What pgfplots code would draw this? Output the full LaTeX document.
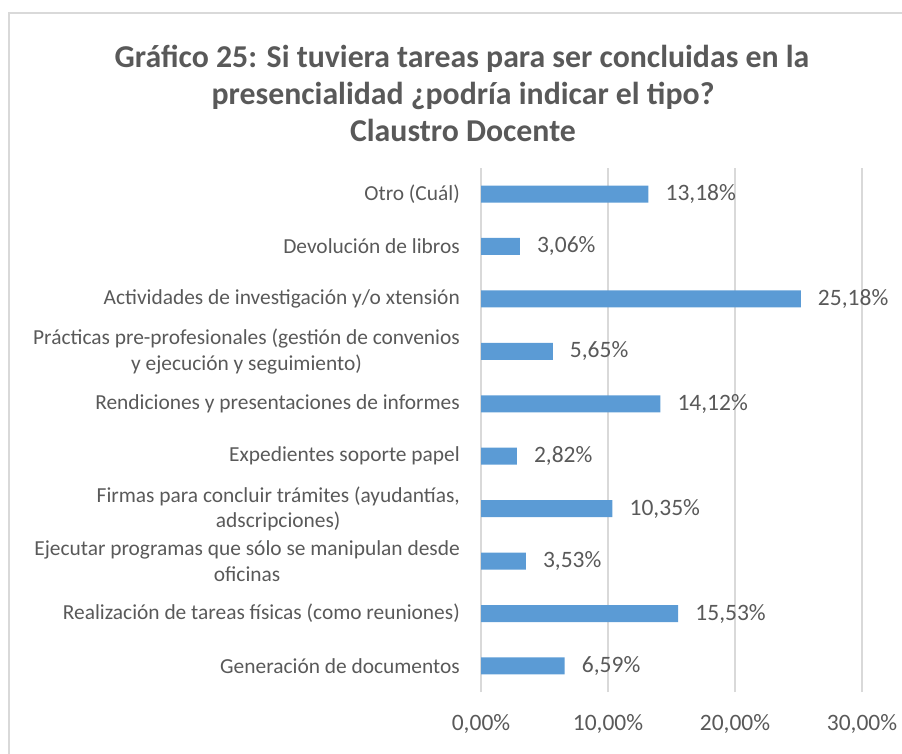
\documentclass[border=0pt]{standalone}
\usepackage{fontspec}
\setmainfont{Carlito}
\usepackage{pgfplots}
\pgfplotsset{compat=1.18}
\definecolor{barblue}{HTML}{5B9BD5}
\definecolor{txt}{HTML}{595959}
\definecolor{gridc}{HTML}{D9D9D9}
\begin{document}
\begin{tikzpicture}
\path[use as bounding box] (0pt,0pt) rectangle (902pt,753pt);
\draw[gridc, line width=1.5pt] (9pt,-5pt) -- (9pt,740pt) -- (910pt,740pt);
\node[anchor=base, font=\fontsize{31.8}{38}\selectfont\bfseries, text=txt] at (462pt,685pt) {Gráfico 25: Si tuviera tareas para ser concluidas en la};
\node[anchor=base, font=\fontsize{31.8}{38}\selectfont\bfseries, text=txt] at (463pt,648pt) {presencialidad ¿podría indicar el tipo?};
\node[anchor=base, font=\fontsize{31.8}{38}\selectfont\bfseries, text=txt] at (463pt,611pt) {Claustro Docente};
\begin{axis}[
  at={(481pt,60.8pt)}, anchor=south west,
  scale only axis, width=381pt, height=524.4pt,
  xbar, bar width=17pt,
  xmin=0, xmax=30, ymin=-0.5, ymax=9.5,
  xtick={0,10,20,30},
  xticklabel={\pgfmathprintnumber[fixed,fixed zerofill,precision=2,use comma,assume math mode=true]{\tick}\%},
  xticklabel style={font=\fontsize{23.5}{28}\selectfont, text=txt, inner sep=0pt, anchor=base, yshift=-38pt},
  ytick={0,...,9},
  yticklabels={
    {Generación de documentos},
    {Realización de tareas físicas (como reuniones)},
    {Ejecutar programas que sólo se manipulan desde\\oficinas},
    {Firmas para concluir trámites (ayudantías,\\adscripciones)},
    {Expedientes soporte papel},
    {Rendiciones y presentaciones de informes},
    {Prácticas pre-profesionales (gestión de convenios\\y ejecución y seguimiento)},
    {Actividades de investigación y/o xtensión},
    {Devolución de libros},
    {Otro (Cuál)}},
  yticklabel style={font=\fontsize{21.4}{25.5}\selectfont, text=txt, align=center, inner sep=0pt, anchor=east, xshift=-21pt},
  major tick length=0pt,
  axis line style={draw=none},
  xmajorgrids, grid style={gridc, line width=1.5pt},
  point meta=x,
  nodes near coords={\pgfmathprintnumber[fixed,fixed zerofill,precision=2,use comma,assume math mode=true]{\pgfplotspointmeta}\%},
  nodes near coords style={font=\fontsize{23.5}{28}\selectfont, text=txt, inner sep=0pt, anchor=west, xshift=17pt},
]
\addplot[fill=barblue, draw=none] coordinates {
  (6.59,0) (15.53,1) (3.53,2) (10.35,3) (2.82,4)
  (14.12,5) (5.65,6) (25.18,7) (3.06,8) (13.18,9)};
\end{axis}
\end{tikzpicture}
\end{document}
